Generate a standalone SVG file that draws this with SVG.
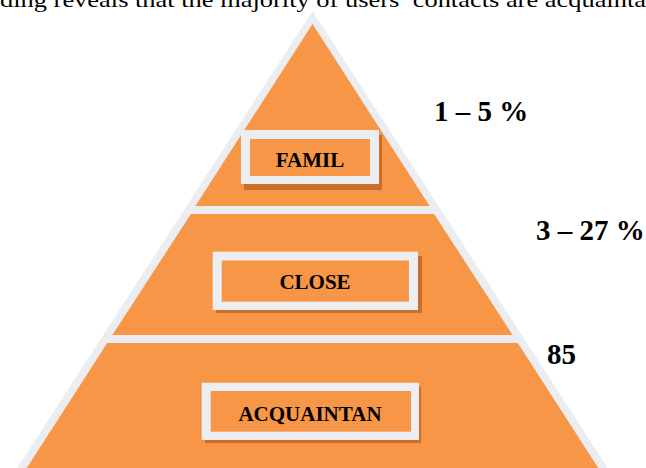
<svg xmlns="http://www.w3.org/2000/svg" width="646" height="468" viewBox="0 0 646 468">
  <style>
    .layer { fill: #F79646; }
    .frame { fill: #ECEEF2; }
    .inner { fill: #F79646; }
    .shadow { fill: #C96E2C; }
    .lbl { font-family: "Liberation Serif", "Times New Roman", serif; font-weight: bold; font-size: 21px; fill: #000; text-anchor: middle; }
    .pct { font-family: "Liberation Serif", "Times New Roman", serif; font-weight: bold; font-size: 29px; fill: #000; }
    .top { font-family: "Liberation Serif", "Times New Roman", serif; font-size: 22px; fill: #000; }
  </style>
  <rect width="646" height="468" fill="#FFFFFF"/>
  <text class="top" x="0" y="7" textLength="646" lengthAdjust="spacingAndGlyphs">ding reveals that the majority of users’ contacts are acquainta</text>
  <g id="pyramid">
    <polygon points="312.5,11 609,470 16,470" fill="#EBEDF1"/>
  </g>
  <g id="layer-famil">
    <polygon class="layer" points="312.5,24 429.6,206 195.4,206"/>
    <rect class="shadow" x="244" y="135" width="138" height="55"/>
    <rect class="frame" x="241" y="130" width="138" height="54"/>
    <rect class="inner" x="250" y="139" width="120" height="37"/>
    <text class="lbl" x="310" y="167">FAMIL</text>
  </g>
  <g id="layer-close">
    <polygon class="layer" points="190.9,214 434.1,214 512.6,335 112.4,335"/>
    <rect class="shadow" x="216" y="256" width="206" height="57"/>
    <rect class="frame" x="212.7" y="251.7" width="205.3" height="58.3"/>
    <rect class="inner" x="221.7" y="260.5" width="187.3" height="41.2"/>
    <text class="lbl" x="315" y="289">CLOSE</text>
  </g>
  <g id="layer-acquaintan">
    <polygon class="layer" points="107.2,343 517.8,343 599.5,470 25.5,470"/>
    <rect class="shadow" x="205" y="387" width="216" height="56"/>
    <rect class="frame" x="201.7" y="382.7" width="217.3" height="57.3"/>
    <rect class="inner" x="210.7" y="391" width="200.3" height="40.7"/>
    <text class="lbl" x="310" y="421">ACQUAINTAN</text>
  </g>
  <g id="labels">
    <text class="pct" x="434" y="121">1 – 5 %</text>
    <text class="pct" x="536" y="240">3 – 27 %</text>
    <text class="pct" x="547" y="364">85</text>
  </g>
  <g id="connectors"/>
</svg>
